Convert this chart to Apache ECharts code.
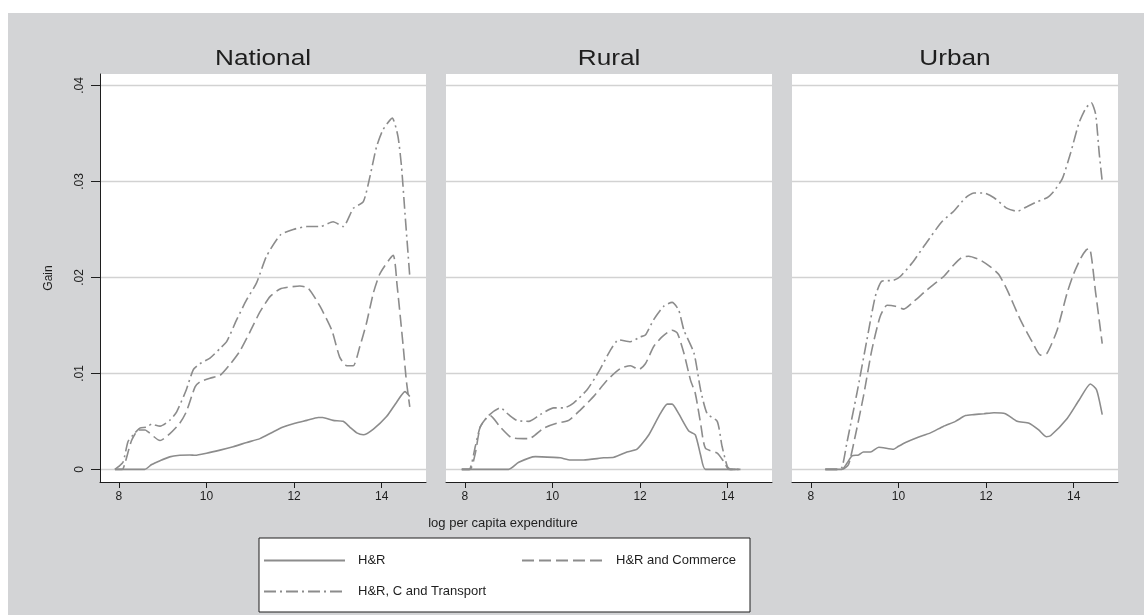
<!DOCTYPE html>
<html>
<head>
<meta charset="utf-8">
<script src="https://cdn.jsdelivr.net/npm/echarts@6/dist/echarts.min.js"></script>
<style>
  html, body { margin: 0; padding: 0; background: #fff; }
  #bg { position: absolute; left: 8px; top: 13px; width: 1136px; height: 602px; background: #d3d4d6; }
  #chart { position: absolute; left: 0; top: 0; width: 1144px; height: 615px; }
</style>
</head>
<body>
<div id="bg"></div>
<div id="chart"></div>
<script>
// panels and legend names
const panels = ["National", "Rural", "Urban"];
const seriesNames = ["H&R", "H&R and Commerce", "H&R, C and Transport"];
const xTicks = [8, 10, 12, 14];
const yTicks = [0, 0.01, 0.02, 0.03, 0.04];

// [log per capita expenditure, gain]
const nationalHR = [[7.91,0],[8.59,0],[8.75,0.0005],[8.94,0.0009],[9.16,0.0013],[9.39,0.00146],[9.62,0.0015],[9.74,0.00146],[10.0,0.00167],[10.31,0.002],[10.61,0.00236],[10.92,0.0028],[11.22,0.0032],[11.52,0.0039],[11.75,0.0044],[12.02,0.0048],[12.29,0.0051],[12.55,0.0054],[12.65,0.0054],[12.89,0.0051],[13.12,0.005],[13.27,0.0044],[13.43,0.0038],[13.58,0.0036],[13.81,0.0042],[14.11,0.0055],[14.34,0.007],[14.53,0.0081],[14.64,0.0076]];
const nationalHRC = [[7.91,0],[8.08,0],[8.15,0.0008],[8.29,0.003],[8.45,0.0041],[8.6,0.0041],[8.67,0.0039],[8.94,0.003],[9.16,0.0037],[9.39,0.0048],[9.54,0.006],[9.74,0.0086],[9.85,0.0091],[10.08,0.0095],[10.31,0.0098],[10.53,0.0109],[10.76,0.0123],[10.99,0.0143],[11.22,0.0164],[11.45,0.018],[11.68,0.0188],[11.9,0.019],[12.13,0.0191],[12.32,0.0189],[12.59,0.017],[12.86,0.0145],[13.04,0.0117],[13.2,0.0108],[13.35,0.0108],[13.5,0.0128],[13.65,0.0152],[13.81,0.0184],[13.96,0.0204],[14.26,0.0223],[14.35,0.0192],[14.49,0.0128],[14.56,0.0093],[14.64,0.0065]];
const nationalHRCT = [[7.91,0],[8.0,0.0003],[8.1,0.0008],[8.21,0.0029],[8.33,0.0036],[8.48,0.0043],[8.63,0.0044],[8.75,0.0047],[8.94,0.0045],[9.16,0.0051],[9.32,0.006],[9.54,0.0083],[9.7,0.0104],[9.85,0.011],[10.08,0.0116],[10.31,0.0126],[10.46,0.0133],[10.69,0.0156],[10.92,0.0177],[11.14,0.0194],[11.37,0.0222],[11.68,0.0244],[11.98,0.025],[12.29,0.0253],[12.59,0.0253],[12.89,0.0258],[13.12,0.0253],[13.35,0.0272],[13.58,0.0279],[13.73,0.0305],[13.88,0.0336],[14.03,0.0354],[14.24,0.0366],[14.37,0.0347],[14.45,0.0316],[14.53,0.0267],[14.64,0.0201]];

const ruralHR = [[7.93,0],[9.0,0],[9.23,0.00073],[9.61,0.00132],[10.03,0.00125],[10.18,0.0012],[10.41,0.00097],[10.71,0.00097],[11.17,0.0012],[11.4,0.00125],[11.7,0.0018],[11.93,0.0021],[12.2,0.0036],[12.46,0.0058],[12.62,0.0068],[12.73,0.0068],[12.88,0.0058],[13.11,0.004],[13.26,0.0036],[13.38,0.0015],[13.49,0],[14.29,0]];
const ruralHRC = [[7.93,0],[8.12,0],[8.24,0.0017],[8.35,0.0044],[8.5,0.0054],[8.58,0.0056],[8.81,0.0044],[9.07,0.0033],[9.46,0.0032],[9.8,0.0043],[10.1,0.0048],[10.37,0.0051],[10.64,0.0062],[10.94,0.0076],[11.25,0.0093],[11.55,0.0105],[11.78,0.0108],[11.97,0.0104],[12.12,0.011],[12.31,0.0128],[12.5,0.0138],[12.73,0.0145],[12.85,0.0142],[13.0,0.0121],[13.15,0.0093],[13.26,0.0079],[13.38,0.0048],[13.49,0.0022],[13.76,0.0017],[13.91,0.0008],[14.03,0],[14.29,0]];
const ruralHRCT = [[7.93,0],[8.1,0],[8.24,0.0024],[8.35,0.0044],[8.54,0.0056],[8.81,0.0064],[9.0,0.0057],[9.19,0.0051],[9.46,0.005],[9.72,0.0057],[10.03,0.0064],[10.26,0.0064],[10.48,0.0069],[10.79,0.0083],[11.06,0.0102],[11.32,0.0124],[11.51,0.0135],[11.78,0.0133],[12.0,0.0138],[12.12,0.014],[12.31,0.0156],[12.54,0.017],[12.73,0.0174],[12.88,0.0166],[13.0,0.0145],[13.23,0.0121],[13.38,0.0083],[13.53,0.0058],[13.76,0.005],[13.87,0.0024],[13.99,0.0003],[14.06,0],[14.29,0]];

const urbanHR = [[8.33,0],[8.71,0],[8.82,0.0006],[8.94,0.0014],[9.09,0.0015],[9.2,0.0018],[9.36,0.0018],[9.55,0.0023],[9.89,0.0021],[10.0,0.0024],[10.16,0.0028],[10.42,0.0033],[10.73,0.0038],[11.03,0.0045],[11.3,0.005],[11.53,0.0056],[11.72,0.0057],[11.95,0.0058],[12.18,0.0059],[12.44,0.0058],[12.71,0.005],[12.98,0.0048],[13.2,0.0041],[13.37,0.0034],[13.47,0.0035],[13.85,0.0053],[14.12,0.0072],[14.38,0.0089],[14.52,0.0083],[14.65,0.0057]];
const urbanHRC = [[8.33,0],[8.71,0],[8.86,0.0005],[9.01,0.0034],[9.2,0.0076],[9.39,0.0124],[9.58,0.0159],[9.74,0.0171],[9.93,0.017],[10.12,0.0167],[10.35,0.0175],[10.65,0.0187],[11.03,0.0201],[11.26,0.0213],[11.45,0.0221],[11.6,0.0222],[11.87,0.0218],[12.1,0.0211],[12.29,0.0203],[12.48,0.0187],[12.78,0.0156],[13.05,0.0133],[13.24,0.0119],[13.39,0.0121],[13.62,0.0145],[13.85,0.0184],[14.0,0.0204],[14.16,0.022],[14.29,0.0229],[14.36,0.023],[14.5,0.0184],[14.65,0.0131]];
const urbanHRCT = [[8.33,0],[8.6,0],[8.71,0.0002],[8.82,0.0027],[9.05,0.0079],[9.28,0.0135],[9.47,0.018],[9.62,0.0196],[9.89,0.0197],[10.04,0.0201],[10.31,0.0215],[10.65,0.0237],[10.99,0.0258],[11.26,0.0269],[11.53,0.0283],[11.72,0.0288],[11.95,0.0288],[12.18,0.0283],[12.48,0.0272],[12.71,0.0269],[12.94,0.0274],[13.17,0.0279],[13.39,0.0283],[13.55,0.029],[13.74,0.0303],[13.93,0.033],[14.12,0.0361],[14.27,0.0376],[14.4,0.0382],[14.5,0.037],[14.58,0.033],[14.65,0.03]];

const panelData = [
  [nationalHR, nationalHRC, nationalHRCT],
  [ruralHR, ruralHRC, ruralHRCT],
  [urbanHR, urbanHRC, urbanHRCT]
];

const FONT = "Liberation Sans, Arial, Helvetica, sans-serif";
const LINE = "#8c8c8c";
const INK = "#1e1e1e";
const dashes = ["solid", [12, 5], [12, 4, 2, 4]];
const gridLefts = [100, 446, 792];
const gridW = 326;

let grids = [], xAxes = [], yAxes = [], titles = [], series = [];

gridLefts.forEach(function (left, i) {
  grids.push({
    left: left, top: 74, width: gridW, height: 408,
    show: true, backgroundColor: "#fff", borderWidth: 0
  });
  // panel titles are a little wider than plain Arial, so stretch them
  titles.push({
    type: "text", x: left + gridW / 2, y: 59, scaleX: 1.19,
    style: {
      text: panels[i], font: "22px " + FONT, fill: INK,
      textAlign: "center", textVerticalAlign: "middle"
    }
  });
  xAxes.push({
    type: "value", gridIndex: i, min: 7.57, max: 15.01,
    axisLine: { show: true, onZero: false, lineStyle: { color: INK, width: 1 } },
    axisTick: { show: true, length: 6, customValues: xTicks, lineStyle: { color: INK } },
    axisLabel: { customValues: xTicks, margin: 9, fontFamily: FONT, fontSize: 12, color: INK },
    splitLine: { show: false }
  });
  yAxes.push({
    type: "value", gridIndex: i, min: -0.00132, max: 0.0412,
    name: i === 0 ? "Gain" : "",
    nameLocation: "middle", nameGap: 45, nameRotate: 90,
    nameTextStyle: { fontFamily: FONT, fontSize: 12, color: INK },
    axisLine: { show: i === 0, lineStyle: { color: INK, width: 1 } },
    axisTick: { show: i === 0, length: 9, customValues: yTicks, lineStyle: { color: INK } },
    axisLabel: {
      show: i === 0, customValues: yTicks, rotate: 90, margin: 14,
      fontFamily: FONT, fontSize: 12, color: INK,
      formatter: function (v) { return v === 0 ? "0" : String(v).replace(/^0/, ""); }
    },
    splitLine: { show: true, lineStyle: { color: "#d2d2d2", width: 1.3 } }
  });
  panelData[i].forEach(function (d, k) {
    series.push({
      name: seriesNames[k], type: "line", xAxisIndex: i, yAxisIndex: i,
      data: d, showSymbol: false, symbol: "none", smooth: 0.2,
      lineStyle: { color: LINE, width: 1.6, type: dashes[k] },
      itemStyle: { color: LINE }
    });
  });
});

function legendFor(name, left, top) {
  return {
    data: [name], left: left, top: top, padding: 0,
    itemWidth: 81, itemHeight: 14,
    itemStyle: { opacity: 0, color: "rgba(0,0,0,0)", borderWidth: 0 },
    textStyle: { fontFamily: FONT, fontSize: 13, color: INK, padding: [0, 0, 0, 8] }
  };
}

const chart = echarts.init(document.getElementById("chart"));
chart.setOption({
  animation: false,
  backgroundColor: "transparent",
  grid: grids,
  xAxis: xAxes,
  yAxis: yAxes,
  legend: [
    legendFor(seriesNames[0], 263, 554),
    legendFor(seriesNames[1], 521, 554),
    legendFor(seriesNames[2], 263, 585)
  ],
  graphic: titles.concat([
    {
      type: "text", x: 503, y: 523,
      style: {
        text: "log per capita expenditure", font: "13px " + FONT, fill: INK,
        textAlign: "center", textVerticalAlign: "middle"
      }
    },
    {
      type: "rect", z: -1, shape: { x: 259, y: 538, width: 491, height: 74 },
      style: { fill: "#fff", stroke: INK, lineWidth: 1 }
    }
  ]),
  series: series
});
</script>
</body>
</html>
